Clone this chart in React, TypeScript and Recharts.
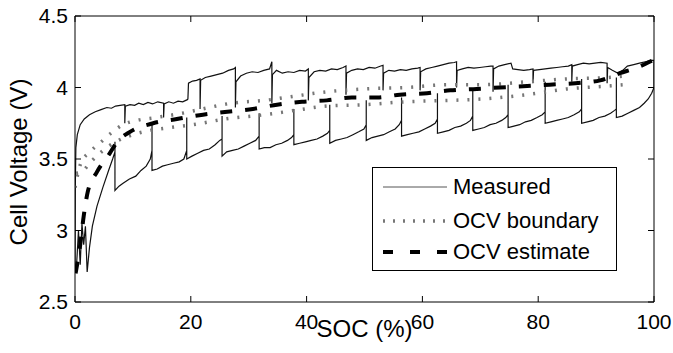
import React from "react";
import { LineChart, Line, XAxis, YAxis, Legend } from "recharts";

// SOC (%) / cell voltage (V) pairs
const xTicks = [0, 20, 40, 60, 80, 100];
const yTicks = [2.5, 3, 3.5, 4, 4.5];

// charging trace (upper), left to right, with the rest drops at each pulse end
const measuredCharge: [number, number][] = [
  [0, 2.72], [0.05, 3.3], [0.15, 3.58], [0.4, 3.67], [0.9, 3.74], [1.6, 3.78], [2.5, 3.81], [3.5, 3.83],
  [4.5, 3.845], [5.5, 3.86], [6.3, 3.855], [7, 3.87], [7.8, 3.875], [8.6, 3.88],
  [8.6, 3.75], [8.7, 3.87], [9.5, 3.88], [10.3, 3.875], [11, 3.89], [11.8, 3.88], [12.6, 3.895], [13.4, 3.885], [14.3, 3.9], [15.3, 3.89],
  [15.3, 3.79], [15.4, 3.885], [16.2, 3.9], [17, 3.89], [17.8, 3.905], [18.6, 3.9], [19.4, 3.915], [19.5, 3.92],
  [19.6, 4.03], [20.3, 4.045], [21, 4.05], [21.6, 4.06],
  [21.6, 3.85], [21.7, 4.05], [22.5, 4.07], [23.5, 4.08], [24.5, 4.09], [25.5, 4.1], [26.5, 4.12], [27.4, 4.13], [27.7, 4.14],
  [27.7, 3.86], [27.8, 4.04], [28.6, 4.08], [29.6, 4.1], [30.6, 4.11], [31.6, 4.105], [32.6, 4.12], [33.6, 4.13], [34, 4.18],
  [34, 3.89], [34.1, 4.09], [34.8, 4.12], [35.8, 4.1], [36.8, 4.11], [37.8, 4.105], [38.8, 4.12], [39.8, 4.115], [40.3, 4.13],
  [40.3, 3.91], [40.4, 4.07], [41.3, 4.11], [42.3, 4.12], [43.3, 4.115], [44.3, 4.13], [45.3, 4.125], [46.3, 4.14], [46.8, 4.15],
  [46.8, 3.95], [46.9, 4.1], [47.8, 4.12], [48.8, 4.13], [49.8, 4.125], [50.8, 4.14], [51.8, 4.135], [52.8, 4.15], [53.2, 4.155],
  [53.2, 3.98], [53.3, 4.1], [54.2, 4.12], [55.2, 4.115], [56.2, 4.125], [57.2, 4.12], [58.2, 4.13], [59.2, 4.135], [59.6, 4.14],
  [59.6, 3.98], [59.7, 4.11], [60.6, 4.13], [61.6, 4.14], [62.6, 4.15], [63.6, 4.16], [64.6, 4.17], [65.5, 4.175], [65.9, 4.18],
  [65.9, 4.0], [66, 4.12], [66.9, 4.13], [67.9, 4.14], [68.9, 4.135], [69.9, 4.14], [70.9, 4.145], [71.8, 4.15], [72.2, 4.15],
  [72.2, 3.97], [72.3, 4.13], [73.2, 4.15], [74.2, 4.16], [75.3, 4.17], [75.6, 4.13], [76.5, 4.125], [77.5, 4.12], [78.5, 4.125], [79.1, 4.13],
  [79.1, 4.03], [79.2, 4.12], [80.2, 4.125], [81.2, 4.13], [82.2, 4.135], [83.2, 4.14], [84.2, 4.145], [85.2, 4.15], [85.8, 4.16],
  [85.8, 4.04], [85.9, 4.15], [86.8, 4.16], [87.8, 4.17], [88.8, 4.165], [89.8, 4.17], [90.8, 4.175], [91.9, 4.17],
  [91.9, 4.03], [92, 4.14], [92.8, 4.12], [93.8, 4.1], [94.6, 4.12], [95.4, 4.15], [96.5, 4.16], [97.5, 4.17], [98.5, 4.18], [99.5, 4.19], [100, 4.19],
];

// discharging trace (lower), stored left to right, with the relaxation spikes
const measuredDischarge: [number, number][] = [
  [0.3, 2.78], [0.6, 3.0], [0.9, 2.76], [1.2, 3.05], [1.5, 2.9], [1.8, 3.03], [2.1, 2.71], [2.5, 2.88],
  [3, 3.03], [3.8, 3.17], [4.8, 3.3], [5.8, 3.42], [6.5, 3.5], [6.9, 3.55],
  [6.9, 3.62], [6.9, 3.28], [7.6, 3.31], [8.3, 3.33], [9.4, 3.36], [10.5, 3.38], [11.4, 3.42], [12.3, 3.45], [13, 3.5], [13.3, 3.56],
  [13.3, 3.75], [13.3, 3.42], [14.2, 3.43], [15.1, 3.45], [16, 3.46], [17, 3.47], [18, 3.48], [18.8, 3.5], [19.3, 3.56],
  [19.3, 3.79], [19.3, 3.5], [20.2, 3.52], [21.2, 3.54], [22.2, 3.56], [23.2, 3.57], [24.2, 3.6], [25, 3.63], [25.4, 3.64],
  [25.4, 3.8], [25.4, 3.52], [26.2, 3.55], [27.2, 3.56], [28.2, 3.57], [29.2, 3.59], [30.2, 3.61], [31.2, 3.63], [31.8, 3.66],
  [31.8, 3.82], [31.8, 3.57], [32.7, 3.58], [33.7, 3.58], [34.7, 3.6], [35.7, 3.61], [36.7, 3.63], [37.4, 3.65], [37.8, 3.67],
  [37.8, 3.85], [37.8, 3.6], [38.8, 3.61], [39.8, 3.62], [40.8, 3.63], [41.8, 3.64], [42.8, 3.66], [43.6, 3.68], [44, 3.7],
  [44, 3.88], [44, 3.61], [45, 3.63], [46, 3.64], [47, 3.65], [48, 3.67], [49, 3.69], [49.9, 3.71], [50.3, 3.74],
  [50.3, 3.91], [50.3, 3.63], [51.3, 3.65], [52.3, 3.66], [53.3, 3.67], [54.3, 3.69], [55.3, 3.71], [56, 3.74], [56.4, 3.77],
  [56.4, 3.93], [56.4, 3.66], [57.4, 3.67], [58.4, 3.68], [59.4, 3.69], [60.4, 3.71], [61.4, 3.73], [62.2, 3.75], [62.6, 3.78],
  [62.6, 3.96], [62.6, 3.68], [63.6, 3.69], [64.6, 3.7], [65.6, 3.72], [66.6, 3.73], [67.6, 3.75], [68.3, 3.77], [68.7, 3.8],
  [68.7, 3.99], [68.7, 3.7], [69.7, 3.71], [70.7, 3.72], [71.7, 3.74], [72.7, 3.75], [73.7, 3.77], [74.4, 3.79], [74.8, 3.81],
  [74.8, 4.02], [74.8, 3.72], [75.8, 3.73], [76.8, 3.74], [77.8, 3.76], [78.8, 3.77], [79.8, 3.79], [80.7, 3.81], [81.2, 3.83],
  [81.2, 4.04], [81.2, 3.75], [82.2, 3.76], [83.2, 3.77], [84.2, 3.78], [85.2, 3.79], [86.2, 3.81], [87.1, 3.83], [87.5, 3.85],
  [87.5, 4.06], [87.5, 3.75], [88.5, 3.76], [89.5, 3.77], [90.5, 3.79], [91.5, 3.8], [92.5, 3.82], [93.2, 3.84], [93.5, 3.85],
  [93.5, 4.07], [93.5, 3.79], [94.5, 3.8], [95.5, 3.82], [96.5, 3.84], [97.5, 3.86], [98.3, 3.89], [99, 3.92], [99.6, 3.96], [100, 4.0], [100, 4.19],
];

const ocvUpper: [number, number][] = [
  [0, 3.3], [1, 3.47], [2.6, 3.55], [4.8, 3.63], [6.5, 3.69], [8.3, 3.74], [10.7, 3.77], [14, 3.79], [18.5, 3.82],
  [22, 3.85], [27, 3.89], [32.8, 3.91], [38, 3.94], [43.5, 3.97], [50, 3.99], [57, 4.0], [64.8, 4.02], [70.5, 4.02],
  [78, 4.04], [85, 4.06], [92, 4.07], [95, 4.08],
];

const ocvLower: [number, number][] = [
  [0.2, 3.4], [1.2, 3.41], [2.5, 3.47], [4, 3.53], [5.5, 3.58], [7.5, 3.63], [10, 3.67], [13, 3.7], [16.5, 3.72],
  [20.4, 3.74], [26, 3.78], [32.8, 3.81], [38, 3.84], [43.5, 3.87], [50, 3.88], [57, 3.9], [64.8, 3.91], [70.5, 3.92],
  [78, 3.95], [85, 3.99], [92, 4.01], [95, 4.02],
];

const ocvEstimate: [number, number][] = [
  [0.1, 2.7], [0.9, 2.9], [1.5, 3.1], [2.2, 3.27], [3.8, 3.41], [6, 3.54], [7.3, 3.62], [9.5, 3.69], [13.5, 3.75],
  [17.6, 3.78], [22.1, 3.81], [26.3, 3.83], [30.7, 3.85], [34.9, 3.88], [39.2, 3.9], [43.5, 3.91], [47.8, 3.93],
  [52.2, 3.93], [56.1, 3.95], [60.8, 3.96], [64.8, 3.98], [69.4, 3.99], [73.4, 4.0], [78.1, 4.01], [82, 4.02],
  [86.4, 4.03], [90.7, 4.05], [94.1, 4.1], [97.1, 4.14], [99.8, 4.19],
];

const toRows = (pts: [number, number][]) => pts.map(([soc, v]) => ({ soc, v }));

const FONT = "'Liberation Sans', Arial, Helvetica, sans-serif";

const BottomTick = ({ x, y, payload }: any) => (
  <g>
    <line x1={x} x2={x} y1={y} y2={y - 6} stroke="#000" />
    <text x={x} y={y + 27} textAnchor="middle" fontSize={21} fontFamily={FONT} fill="#000">
      {payload.value}
    </text>
  </g>
);

const TopTick = ({ x, y }: any) => <line x1={x} x2={x} y1={y} y2={y + 6} stroke="#000" />;

const LeftTick = ({ x, y, payload }: any) => (
  <g>
    <line x1={x} x2={x + 6} y1={y} y2={y} stroke="#000" />
    <text x={x - 7} y={y + 7} textAnchor="end" fontSize={21} fontFamily={FONT} fill="#000">
      {payload.value}
    </text>
  </g>
);

const RightTick = ({ x, y }: any) => <line x1={x} x2={x - 6} y1={y} y2={y} stroke="#000" />;

const XTitle = ({ viewBox }: any) => (
  <text x={viewBox.x + viewBox.width / 2} y={viewBox.y + 35} textAnchor="middle" fontSize={24} fontFamily={FONT} fill="#000">
    SOC (%)
  </text>
);

const YTitle = ({ viewBox }: any) => {
  const cy = viewBox.y + viewBox.height / 2 + 3;
  return (
    <text x={27} y={cy} transform={`rotate(-90 27 ${cy})`} textAnchor="middle" fontSize={24} fontFamily={FONT} fill="#000">
      Cell Voltage (V)
    </text>
  );
};

const legendItems = [
  { name: "Measured", stroke: "#555", width: 1, dash: undefined as string | undefined },
  { name: "OCV boundary", stroke: "#777", width: 3.5, dash: "2 8" },
  { name: "OCV estimate", stroke: "#000", width: 4, dash: "10 17" },
];
const legendRowY = [19, 53, 84];

const LegendBox = () => (
  <div
    style={{
      position: "relative",
      width: 245,
      height: 104,
      boxSizing: "border-box",
      border: "1px solid #000",
      background: "#fff",
      fontFamily: FONT,
      fontSize: 22,
      color: "#000",
    }}
  >
    {legendItems.map((it, i) => (
      <div key={it.name} style={{ position: "absolute", left: 0, top: legendRowY[i] - 15, height: 30, width: 243 }}>
        <svg width={80} height={30} style={{ position: "absolute", left: 0, top: 0 }}>
          <line x1={10} x2={74} y1={15} y2={15} stroke={it.stroke} strokeWidth={it.width} strokeDasharray={it.dash} />
        </svg>
        <span style={{ position: "absolute", left: 80, top: 1, lineHeight: "28px", whiteSpace: "nowrap" }}>{it.name}</span>
      </div>
    ))}
  </div>
);

export default function App() {
  return (
    <div style={{ position: "absolute", left: 0, top: 0, width: 673, height: 353, background: "#fff" }}>
      <LineChart width={673} height={353} margin={{ top: 15, right: 18, bottom: 50, left: 74 }}>
        <XAxis
          dataKey="soc"
          type="number"
          domain={[0, 100]}
          ticks={xTicks}
          allowDataOverflow
          height={1}
          tickSize={0}
          tickMargin={0}
          tick={<BottomTick />}
          axisLine={{ stroke: "#000" }}
          label={<XTitle />}
        />
        <XAxis
          xAxisId="top"
          orientation="top"
          dataKey="soc"
          type="number"
          domain={[0, 100]}
          ticks={xTicks}
          allowDataOverflow
          height={1}
          tickSize={0}
          tickMargin={0}
          tick={<TopTick />}
          axisLine={{ stroke: "#000" }}
        />
        <YAxis
          type="number"
          domain={[2.5, 4.5]}
          ticks={yTicks}
          allowDataOverflow
          width={1}
          tickSize={0}
          tickMargin={0}
          tick={<LeftTick />}
          axisLine={{ stroke: "#000" }}
          label={<YTitle />}
        />
        <YAxis
          yAxisId="right"
          orientation="right"
          type="number"
          domain={[2.5, 4.5]}
          ticks={yTicks}
          allowDataOverflow
          width={1}
          tickSize={0}
          tickMargin={0}
          tick={<RightTick />}
          axisLine={{ stroke: "#000" }}
        />
        <Line
          data={toRows(measuredCharge)}
          dataKey="v"
          type="linear"
          stroke="#111"
          strokeWidth={1.2}
          dot={false}
          activeDot={false}
          isAnimationActive={false}
        />
        <Line
          data={toRows(measuredDischarge)}
          dataKey="v"
          type="linear"
          stroke="#111"
          strokeWidth={1.2}
          dot={false}
          activeDot={false}
          isAnimationActive={false}
        />
        <Line
          data={toRows(ocvUpper)}
          dataKey="v"
          type="monotone"
          stroke="#777"
          strokeWidth={3.5}
          strokeDasharray="2 9"
          dot={false}
          activeDot={false}
          isAnimationActive={false}
        />
        <Line
          data={toRows(ocvLower)}
          dataKey="v"
          type="monotone"
          stroke="#777"
          strokeWidth={3.5}
          strokeDasharray="2 9"
          dot={false}
          activeDot={false}
          isAnimationActive={false}
        />
        <Line
          data={toRows(ocvEstimate)}
          dataKey="v"
          type="monotone"
          stroke="#000"
          strokeWidth={4}
          strokeDasharray="12 13"
          dot={false}
          activeDot={false}
          isAnimationActive={false}
        />
        <Legend
          layout="horizontal"
          verticalAlign="middle"
          align="center"
          content={<LegendBox />}
          wrapperStyle={{ left: 372, top: 167, width: 245, height: 104 }}
        />
      </LineChart>
    </div>
  );
}
